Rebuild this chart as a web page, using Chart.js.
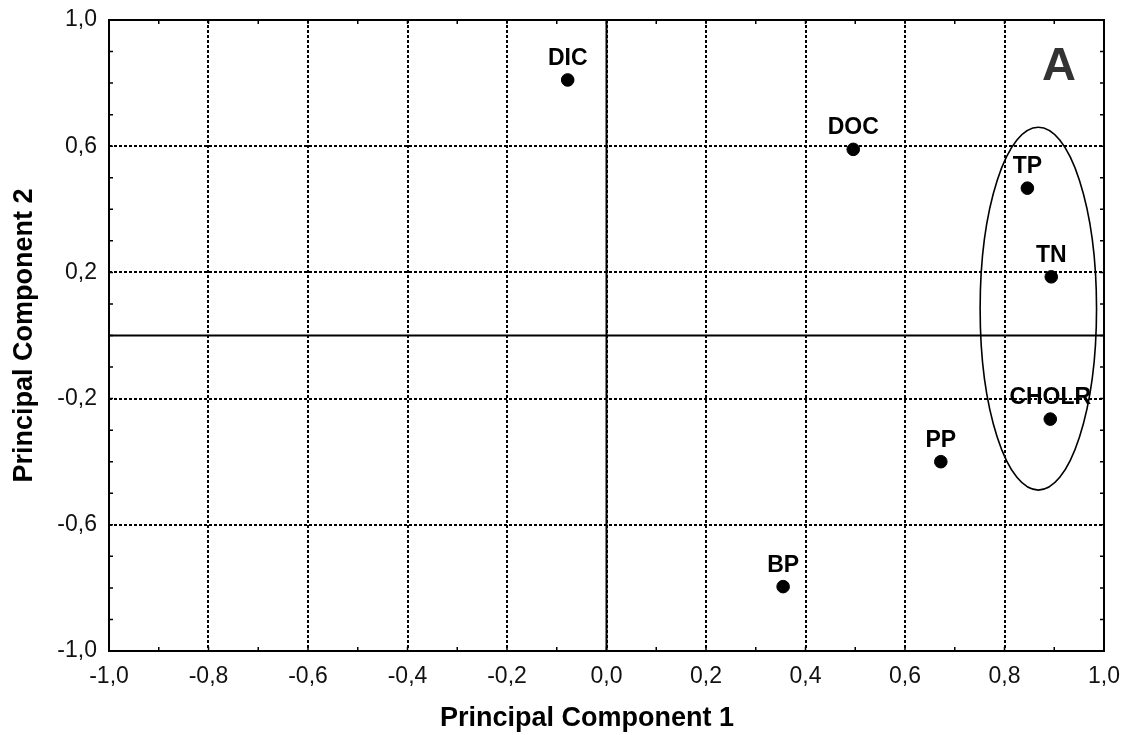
<!DOCTYPE html>
<html>
<head>
<meta charset="utf-8">
<title>PCA loadings</title>
<script src="https://cdn.jsdelivr.net/npm/chart.js@4.4.1/dist/chart.umd.min.js"></script>
<style>
  html, body { margin: 0; padding: 0; background: #fff; }
  #wrap { width: 1125px; height: 735px; }
</style>
</head>
<body>
<div id="wrap"><canvas id="pcaChart" width="1125" height="735"></canvas></div>
<script>
// loadings
const variables = ['DIC', 'DOC', 'TP', 'TN', 'CHOLR', 'PP', 'BP'];
const pc1 = [-0.078, 0.496, 0.846, 0.894, 0.892, 0.672, 0.355];
const pc2 = [0.810, 0.590, 0.467, 0.186, -0.265, -0.400, -0.796];

const xTicks = [-1.0, -0.8, -0.6, -0.4, -0.2, 0.0, 0.2, 0.4, 0.6, 0.8, 1.0];
const yTicks = [-1.0, -0.6, -0.2, 0.2, 0.6, 1.0];

// ellipse round the TP / TN / CHOLR group (centre and half-axes in data units)
const groupCenter = [0.868, 0.085];
const groupRadius = [0.117, 0.575];

const FONT = "'Liberation Sans', Arial, Helvetica, sans-serif";
Chart.defaults.font.family = FONT;

function fmt(v) {
    const r = Math.round(v * 10) / 10;
    return (r === 0 ? 0 : r).toFixed(1).replace('.', ',');
}

const decor = {
    id: 'pcaDecor',
    beforeDatasetsDraw(chart) {
        const ctx = chart.ctx;
        const area = chart.chartArea;
        const x = chart.scales.x;
        const y = chart.scales.y;
        ctx.save();

        // solid zero lines
        ctx.strokeStyle = '#000';
        ctx.lineWidth = 2;
        ctx.beginPath();
        ctx.moveTo(area.left, y.getPixelForValue(0));
        ctx.lineTo(area.right, y.getPixelForValue(0));
        ctx.moveTo(x.getPixelForValue(0), area.top);
        ctx.lineTo(x.getPixelForValue(0), area.bottom);
        ctx.stroke();

        // small inward ticks every 0.1
        ctx.lineWidth = 1.5;
        ctx.beginPath();
        for (let i = -9; i <= 9; i++) {
            const px = x.getPixelForValue(i / 10);
            const py = y.getPixelForValue(i / 10);
            ctx.moveTo(px, area.bottom); ctx.lineTo(px, area.bottom - 4);
            ctx.moveTo(px, area.top); ctx.lineTo(px, area.top + 4);
            ctx.moveTo(area.left, py); ctx.lineTo(area.left + 4, py);
            ctx.moveTo(area.right, py); ctx.lineTo(area.right - 4, py);
        }
        ctx.stroke();

        // frame
        ctx.lineWidth = 2;
        ctx.strokeRect(area.left, area.top, area.right - area.left, area.bottom - area.top);

        // group ellipse
        const cx = x.getPixelForValue(groupCenter[0]);
        const cy = y.getPixelForValue(groupCenter[1]);
        const rx = Math.abs(x.getPixelForValue(groupCenter[0] + groupRadius[0]) - cx);
        const ry = Math.abs(y.getPixelForValue(groupCenter[1] + groupRadius[1]) - cy);
        ctx.lineWidth = 1.6;
        ctx.beginPath();
        ctx.ellipse(cx, cy, rx, ry, 0, 0, Math.PI * 2);
        ctx.stroke();
        ctx.restore();
    },
    afterDatasetsDraw(chart) {
        const ctx = chart.ctx;
        const meta = chart.getDatasetMeta(0);
        ctx.save();

        // point names
        ctx.fillStyle = '#000';
        ctx.font = 'bold 23px ' + FONT;
        ctx.textAlign = 'center';
        ctx.textBaseline = 'alphabetic';
        meta.data.forEach((pt, i) => {
            ctx.fillText(variables[i], pt.x, pt.y - 15);
        });

        // panel letter
        ctx.fillStyle = '#333';
        ctx.font = 'bold 47px ' + FONT;
        ctx.fillText('A', 1059, 80);

        // x axis title
        ctx.fillStyle = '#000';
        ctx.font = 'bold 27px ' + FONT;
        ctx.fillText('Principal Component 1', 587, 726);
        ctx.restore();
    }
};

const ctx = document.getElementById('pcaChart').getContext('2d');
const pcaChart = new Chart(ctx, {
    type: 'scatter',
    data: {
        datasets: [{
            label: 'Loadings',
            data: pc1.map((v, i) => ({ x: v, y: pc2[i] })),
            backgroundColor: '#000',
            borderColor: '#000',
            pointRadius: 6.3,
            pointHoverRadius: 6.3
        }]
    },
    options: {
        responsive: false,
        devicePixelRatio: 1,
        animation: false,
        layout: {
            padding: { top: 20, right: 21, left: 0, bottom: 0 }
        },
        plugins: {
            legend: { display: false },
            tooltip: { enabled: false }
        },
        scales: {
            x: {
                type: 'linear',
                min: -1,
                max: 1,
                afterBuildTicks: s => { s.ticks = xTicks.map(v => ({ value: v })); },
                afterFit: s => { s.height = 84; s.paddingLeft = 0; s.paddingRight = 0; },
                grid: { color: '#000', lineWidth: 2, drawTicks: false },
                border: { display: false, dash: [3, 2] },
                ticks: {
                    padding: 12,
                    color: '#111',
                    font: { size: 23 },
                    maxRotation: 0,
                    callback: v => fmt(v)
                }
            },
            y: {
                type: 'linear',
                min: -1,
                max: 1,
                afterBuildTicks: s => { s.ticks = yTicks.map(v => ({ value: v })); },
                afterFit: s => { s.width = 109; s.paddingTop = 0; s.paddingBottom = 0; },
                grid: { color: '#000', lineWidth: 2, drawTicks: false },
                border: { display: false, dash: [3, 2] },
                ticks: {
                    padding: 12,
                    color: '#111',
                    font: { size: 23 },
                    callback: v => fmt(v)
                },
                title: {
                    display: true,
                    text: 'Principal Component 2',
                    color: '#000',
                    font: { size: 27, weight: 'bold' },
                    padding: { top: 8, bottom: 0 }
                }
            }
        }
    },
    plugins: [decor]
});
</script>
</body>
</html>
